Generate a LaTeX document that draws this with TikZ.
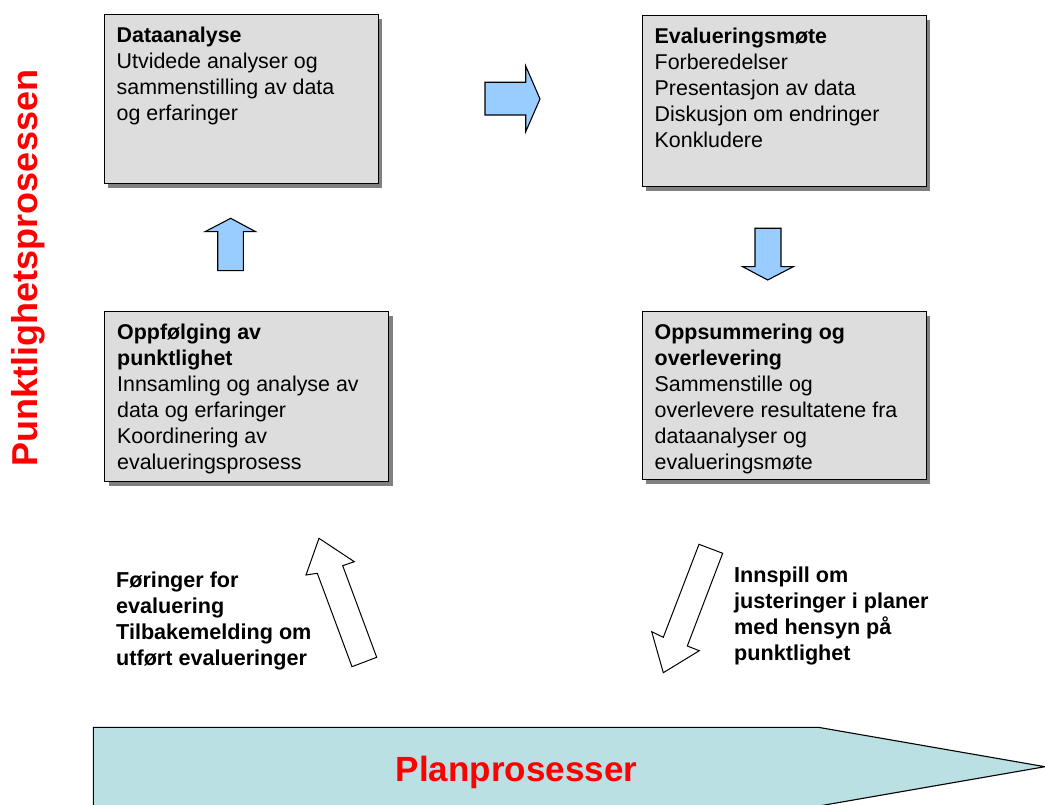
\documentclass[tikz,border=0pt]{standalone}
\usepackage{fontspec}
\setmainfont{Liberation Sans}
\usetikzlibrary{calc, shadows}

\definecolor{boxgray}{HTML}{DDDDDD}
\definecolor{arrowblue}{HTML}{99CCFF}
\definecolor{plancyan}{HTML}{BAE0E3}
\definecolor{shadowgray}{HTML}{808080}

\begin{document}
\begin{tikzpicture}[x=1pt, y=-1pt,
  stepbox/.style={draw=black, line width=1.2pt, fill=boxgray, anchor=north west,
    copy shadow={shadow xshift=4pt, shadow yshift=-4pt, fill=shadowgray, draw=none}},
  boxtext/.style={font=\fontsize{21.4}{26}\selectfont, align=left, inner sep=0pt, anchor=north west},
  sidetext/.style={font=\fontsize{21.6}{26}\selectfont\bfseries, align=left, inner sep=0pt, anchor=north west},
  bluearrow/.style={fill=arrowblue, draw=black, line width=1.1pt},
  openarrow/.style={fill=white, draw=black, line width=1pt}]
  \useasboundingbox (0,0) rectangle (1045,805);

  % The four boxes of the evaluation loop
  \node[stepbox, minimum width=274, minimum height=169] (dataanalyse) at (103.5,14) {};
  \node[stepbox, minimum width=284, minimum height=171] (evaluering) at (641.5,15) {};
  \node[stepbox, minimum width=284, minimum height=170] (oppfolging) at (104,311) {};
  \node[stepbox, minimum width=284, minimum height=168] (oppsummering) at (641.5,311) {};

  % Box texts
  \node[boxtext] (dataanalyse-txt) at ($(dataanalyse.north west)+(13,13)$)
    {\textbf{Dataanalyse}\\Utvidede analyser og\\sammenstilling av data\\og erfaringer};
  \node[boxtext] (evaluering-txt) at ($(evaluering.north west)+(13,13)$)
    {\textbf{Evalueringsmøte}\\Forberedelser\\Presentasjon av data\\Diskusjon om endringer\\Konkludere};
  \node[boxtext] (oppfolging-txt) at ($(oppfolging.north west)+(13,13)$)
    {\textbf{Oppfølging av}\\\textbf{punktlighet}\\Innsamling og analyse av\\data og erfaringer\\Koordinering av\\evalueringsprosess};
  \node[boxtext] (oppsummering-txt) at ($(oppsummering.north west)+(13,13)$)
    {\textbf{Oppsummering og}\\\textbf{overlevering}\\Sammenstille og\\overlevere resultatene fra\\dataanalyser og\\evalueringsmøte};

  % Blue block arrows between the boxes
  \draw[bluearrow] (485,82.3) -- (525.7,82.3) -- (525.7,66) -- (540,99)
    -- (525.7,131.7) -- (525.7,115) -- (485,115) -- cycle;
  \draw[bluearrow] (217.7,270.7) -- (217.7,231.7) -- (205,231.7) -- (230.7,218.3)
    -- (255.7,231.7) -- (243.3,231.7) -- (243.3,270.7) -- cycle;
  \draw[bluearrow] (755,228.3) -- (781,228.3) -- (781,266.7) -- (793.3,266.7)
    -- (767.7,280) -- (742.7,266.7) -- (755,266.7) -- cycle;

  % Open arrows to and from the plan processes
  \draw[openarrow] (319,538.3) -- (354.3,561.7) -- (342.7,565.7) -- (376.7,657.3)
    -- (352,666.7) -- (317.3,573.3) -- (306,575) -- cycle;
  \draw[openarrow] (699,544.3) -- (722.7,553.3) -- (687.3,646) -- (699.3,650.7)
    -- (663.3,672.7) -- (651.7,631.7) -- (663.3,637.3) -- cycle;

  \node[sidetext] (foringer) at (116,572)
    {Føringer for\\evaluering\\Tilbakemelding om\\utført evalueringer};
  \node[sidetext] (innspill) at (734,567)
    {Innspill om\\justeringer i planer\\med hensyn på\\punktlighet};

  % Plan process band
  \fill[plancyan] (93.3,806) -- (93.3,727.3) -- (818.3,727.3) -- (1045,766.7)
    -- (818.3,806.1) -- cycle;
  \draw[line width=1.1pt] (93.3,806) -- (93.3,727.3) -- (818.3,727.3) -- (1045,766.7)
    -- (818.3,806.1);
  \node[font=\fontsize{35}{42}\selectfont\bfseries, text=red, anchor=base] (plan)
    at (516.5,781.7) {Planprosesser};

  % Vertical title
  \node[font=\fontsize{36}{43}\selectfont\bfseries, text=red, rotate=90] (punkt)
    at (28.5,268) {Punktlighetsprosessen};
\end{tikzpicture}
\end{document}
